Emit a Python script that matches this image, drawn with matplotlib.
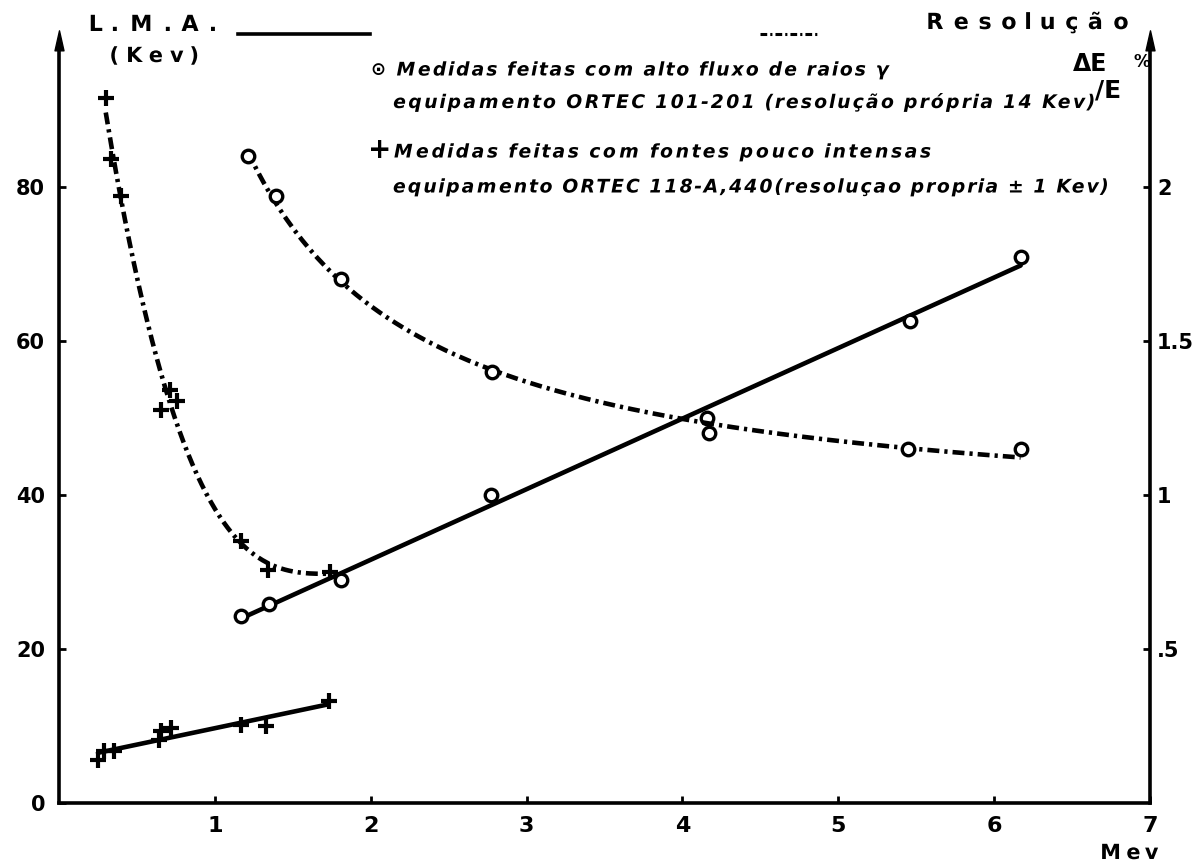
import numpy as np
import matplotlib
matplotlib.use("Agg")
import matplotlib.pyplot as plt
from matplotlib.path import Path
from matplotlib.patheffects import AbstractPathEffect
from matplotlib.lines import Line2D

# ---------------- data ----------------
energy_flux_lma = [1.17, 1.35, 1.81, 2.77, 4.16, 5.46, 6.17]
lma_flux = [24.3, 25.8, 29.0, 40.0, 50.0, 62.6, 70.9]
energy_flux_res = [1.21, 1.39, 1.81, 2.78, 4.17, 5.45, 6.17]
res_flux = [2.10, 1.97, 1.70, 1.40, 1.20, 1.15, 1.15]

energy_weak_lma = [0.25, 0.29, 0.355, 0.64, 0.655, 0.72, 1.17, 1.33, 1.73]
lma_weak = [5.6, 6.7, 6.7, 8.2, 9.3, 9.7, 10.1, 10.0, 13.2]
energy_weak_res = [0.30, 0.333, 0.40, 0.656, 0.71, 0.76, 1.17, 1.34, 1.74]
res_weak = [2.29, 2.09, 1.97, 1.275, 1.34, 1.305, 0.85, 0.755, 0.75]

x_ticks = [1, 2, 3, 4, 5, 6, 7]
x_ticklabels = ["1", "2", "3", "4", "5", "6", "7"]
lma_ticks = [0, 20, 40, 60, 80]
lma_ticklabels = ["0", "20", "40", "60", "80"]
res_ticks = [0.5, 1, 1.5, 2]
res_ticklabels = [".5", "1", "1.5", "2"]
res_scale = 40.0  # 2 % on the right axis sits level with 80 keV on the left

# ---------------- layout ----------------
W, H = 1202, 867
x0, x1 = 59, 1150
yb, yt = 803, 47
px_per_unit = 7.7
ytop = (yb - yt) / px_per_unit

fig = plt.figure(figsize=(W / 100, H / 100), dpi=100)
fig.patch.set_facecolor("white")
ax = fig.add_axes([x0 / W, (H - yb) / H, (x1 - x0) / W, (yb - yt) / H])
ax.set_xlim(0, 7)
ax.set_ylim(0, ytop)
ax2 = ax.twinx()
ax2.set_ylim(0, ytop / res_scale)

for s in ["top", "right"]:
    ax.spines[s].set_visible(False)
for s in ["top", "left", "bottom"]:
    ax2.spines[s].set_visible(False)
for sp in [ax.spines["left"], ax.spines["bottom"], ax2.spines["right"]]:
    sp.set_linewidth(2.6)
    sp.set_color("black")

ax.set_xticks(x_ticks)
ax.set_xticklabels(x_ticklabels, fontsize=16, fontweight="bold")
ax.set_yticks(lma_ticks)
ax.set_yticklabels(lma_ticklabels, fontsize=15, fontweight="bold")
ax2.set_yticks(res_ticks)
ax2.set_yticklabels(res_ticklabels, fontsize=15, fontweight="bold")
ax.tick_params(axis="x", direction="in", length=5, width=2, pad=9)
ax.tick_params(axis="y", direction="in", length=5, width=2, pad=10)
ax2.tick_params(axis="y", direction="in", length=5, width=2, pad=5)

# arrow heads on the vertical axes
arrow = Path([(-0.27, -0.2), (0, 1), (0.27, -0.2), (-0.27, -0.2)],
             [Path.MOVETO, Path.LINETO, Path.LINETO, Path.CLOSEPOLY])
for xa in (0, 1):
    ax.plot([xa], [1], transform=ax.transAxes, marker=arrow, ms=24,
            color="black", clip_on=False, zorder=5)

LW = 3.3
dashdot = (0, (2.6, 1.1, 0.7, 1.1))

# ---- L.M.A. (solid lines, fitted straight) ----
c1 = np.polyfit(energy_flux_lma, lma_flux, 1)
xs1 = np.linspace(min(energy_flux_lma), max(energy_flux_lma), 100)
ax.plot(xs1, np.polyval(c1, xs1), color="black", lw=LW, solid_capstyle="round")
ax.plot(energy_flux_lma, lma_flux, ls="none", marker="o", ms=9, mfc="white",
        mec="black", mew=2.4, zorder=4)

c2 = np.polyfit(energy_weak_lma, lma_weak, 1)
xs2 = np.linspace(min(energy_weak_lma), max(energy_weak_lma), 100)
ax.plot(xs2, np.polyval(c2, xs2), color="black", lw=LW, solid_capstyle="round")
ax.plot(energy_weak_lma, lma_weak, ls="none", marker="+", ms=12, mew=3,
        color="black", zorder=4)

# ---- Resolução (dash-dot smooth curves) ----
ef = np.array(energy_flux_res)
c3 = np.polyfit(1 / ef, res_flux, 2)
xs3 = np.linspace(ef.min(), ef.max(), 200)
ax2.plot(xs3, np.polyval(c3, 1 / xs3), color="black", lw=LW, ls=dashdot)
ax2.plot(energy_flux_res, res_flux, ls="none", marker="o", ms=9, mfc="white",
         mec="black", mew=2.4, zorder=4)

ew = np.array(energy_weak_res)
c4 = np.polyfit(ew, res_weak, 3)
xs4 = np.linspace(ew.min(), ew.max(), 200)
ax2.plot(xs4, np.polyval(c4, xs4), color="black", lw=LW, ls=dashdot)
ax2.plot(energy_weak_res, res_weak, ls="none", marker="+", ms=12, mew=3,
         color="black", zorder=4)


# ---------------- letter-spaced text ----------------
class Spread(AbstractPathEffect):
    """Spread glyphs apart (letter spacing) without distorting them."""

    def __init__(self, k):
        super().__init__()
        self.k = k

    def draw_path(self, renderer, gc, tpath, affine, rgbFace=None):
        codes = tpath.codes
        if codes is None or self.k == 1:
            renderer.draw_path(gc, tpath, affine, rgbFace)
            return
        verts = np.array(tpath.vertices, dtype=float)
        starts = list(np.flatnonzero(codes == Path.MOVETO))
        ends = starts[1:] + [len(codes)]
        for s, e in zip(starts, ends):
            seg = slice(s, e)
            good = codes[seg] != Path.CLOSEPOLY
            vx = verts[seg, 0][good]
            if len(vx) == 0:
                continue
            cx = 0.5 * (vx.min() + vx.max())
            verts[seg, 0] += (self.k - 1) * cx
        renderer.draw_path(gc, Path(verts, codes), affine, rgbFace)


spaced = []


def ftext(xl, xr, y, s, **kw):
    t = fig.text(xl / W, 1 - y / H, s, ha="left", va="center",
                 color="black", **kw)
    if xr is not None:
        spaced.append((t, xr - xl))
    return t


ftext(83, 217, 25, "L.M.A.", fontsize=16, fontweight="bold")
ftext(107, 200, 56, "(Kev)", fontsize=15, fontweight="bold")
ftext(920, 1130, 23, "Resolução", fontsize=16, fontweight="bold")

ftext(370, None, 70, "⊙", fontsize=13, fontweight="bold")
ftext(395, 885, 70, "Medidas feitas com alto fluxo de raios γ",
      fontsize=13.5, fontweight="bold", fontstyle="oblique")
ftext(392, 1090, 102, "equipamento ORTEC 101-201 (resolução própria 14 Kev)",
      fontsize=13.5, fontweight="bold", fontstyle="oblique")
ftext(368, None, 150, "+", fontsize=20, fontweight="bold")
ftext(392, 927, 152, "Medidas feitas com fontes pouco intensas",
      fontsize=13.5, fontweight="bold", fontstyle="oblique")
ftext(392, 1104, 187, "equipamento ORTEC 118-A,440(resoluçao propria ± 1 Kev)",
      fontsize=13.5, fontweight="bold", fontstyle="oblique")

ftext(1073, None, 64, "ΔE", fontsize=17, fontweight="bold")
ftext(1095, None, 90, "/E", fontsize=18, fontweight="bold")
ftext(1134, None, 62, "%", fontsize=12, fontweight="bold")

ftext(1097, 1160, 853, "Mev", fontsize=15, fontweight="bold")

# legend-like sample lines next to the axis titles
fig.add_artist(Line2D([238 / W, 370 / W], [1 - 34 / H, 1 - 34 / H],
                      color="black", lw=2.6, transform=fig.transFigure))
fig.add_artist(Line2D([760 / W, 818 / W], [1 - 34 / H, 1 - 34 / H],
                      color="black", lw=2.2, ls=(0, (2.2, 1.0, 0.7, 1.0)),
                      transform=fig.transFigure))

fig.canvas.draw()
renderer = fig.canvas.get_renderer()
for t, target in spaced:
    w = t.get_window_extent(renderer).width
    if w > 0:
        k = 1 + (target - w) / (0.95 * w)
        t.set_path_effects([Spread(max(k, 1.0))])

fig.savefig("out.png", dpi=100, facecolor="white")
